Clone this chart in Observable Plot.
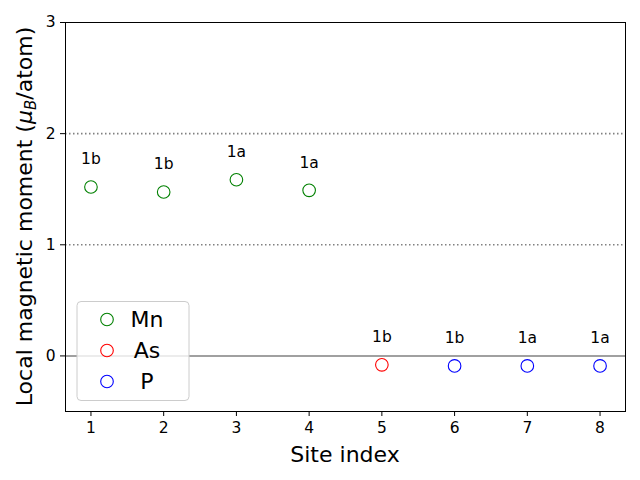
<!DOCTYPE html>
<html>
<head>
<meta charset="utf-8">
<script src="https://cdn.jsdelivr.net/npm/d3@7"></script>
<script src="https://cdn.jsdelivr.net/npm/@observablehq/plot@0.6"></script>
<style>
  html, body { margin: 0; padding: 0; background: #fff; }
  #chart { position: relative; width: 640px; height: 480px; }
  svg { font-family: "DejaVu Sans", sans-serif; }
</style>
</head>
<body>
<div id="chart"></div>
<script>
const sites = [1, 2, 3, 4, 5, 6, 7, 8];
const moments = [1.52, 1.475, 1.585, 1.49, -0.08, -0.09, -0.09, -0.09];
const elements = ["Mn", "Mn", "Mn", "Mn", "As", "P", "P", "P"];
const wyckoff = ["1b", "1b", "1a", "1a", "1b", "1b", "1a", "1a"];
const elementOrder = ["Mn", "As", "P"];
const elementColors = ["green", "red", "blue"];
const yTicks = [0, 1, 2, 3];
const dottedLevels = [1, 2];
const labelOffset = 0.25;

const data = sites.map((s, i) => ({site: s, m: moments[i], el: elements[i], w: wyckoff[i]}));

const plot = Plot.plot({
  width: 640,
  height: 480,
  marginLeft: 65,
  marginRight: 15,
  marginTop: 22,
  marginBottom: 69,
  style: {fontFamily: "DejaVu Sans", fontSize: "15px", color: "black", background: "white"},
  x: {domain: [0.65, 8.35]},
  y: {domain: [-0.5, 3]},
  color: {domain: elementOrder, range: elementColors},
  marks: [
    Plot.ruleY(dottedLevels, {stroke: "gray", strokeWidth: 1.6, strokeDasharray: "1.5,2.5"}),
    Plot.ruleY([0], {stroke: "gray", strokeWidth: 1.5}),
    Plot.dot(data, {x: "site", y: "m", stroke: "el", r: 6.3, strokeWidth: 1.1}),
    Plot.text(data, {x: "site", y: d => d.m + labelOffset, text: "w", fontSize: 15.5, fill: "black"}),
    Plot.frame({stroke: "black", strokeWidth: 1}),
    Plot.axisX({ticks: sites, tickFormat: "d", tickSize: 5, tickPadding: 5, fontSize: 15.5, label: null}),
    Plot.axisY({ticks: yTicks, tickFormat: "d", tickSize: 5, tickPadding: 5, fontSize: 15.5, label: null})
  ]
});

document.getElementById("chart").appendChild(plot);

const svg = d3.select(plot);
// axis labels
svg.append("text")
  .attr("x", 345).attr("y", 462)
  .attr("text-anchor", "middle")
  .attr("font-size", 22)
  .attr("fill", "black")
  .text("Site index");

const yl = svg.append("text")
  .attr("transform", "translate(32,216.5) rotate(-90)")
  .attr("text-anchor", "middle")
  .attr("font-size", 22)
  .attr("fill", "black");
yl.append("tspan").text("Local magnetic moment (");
yl.append("tspan").attr("font-style", "italic").text("μ");
yl.append("tspan").attr("font-style", "italic").attr("font-size", 15).attr("dy", 4).text("B");
yl.append("tspan").attr("dy", -4).text("/atom)");

// legend
const lg = svg.append("g");
lg.append("rect")
  .attr("x", 77).attr("y", 301.5).attr("width", 112).attr("height", 99)
  .attr("rx", 4).attr("ry", 4)
  .attr("fill", "white").attr("fill-opacity", 0.8)
  .attr("stroke", "#cccccc").attr("stroke-width", 1);
elementOrder.forEach((el, i) => {
  const cy = 319.5 + i * 31;
  lg.append("circle")
    .attr("cx", 107).attr("cy", cy).attr("r", 6.3)
    .attr("fill", "none").attr("stroke", elementColors[i]).attr("stroke-width", 1.1);
  lg.append("text")
    .attr("x", 147).attr("y", cy).attr("dy", "0.36em")
    .attr("font-size", 22).attr("fill", "black")
    .text(el);
});
</script>
</body>
</html>
